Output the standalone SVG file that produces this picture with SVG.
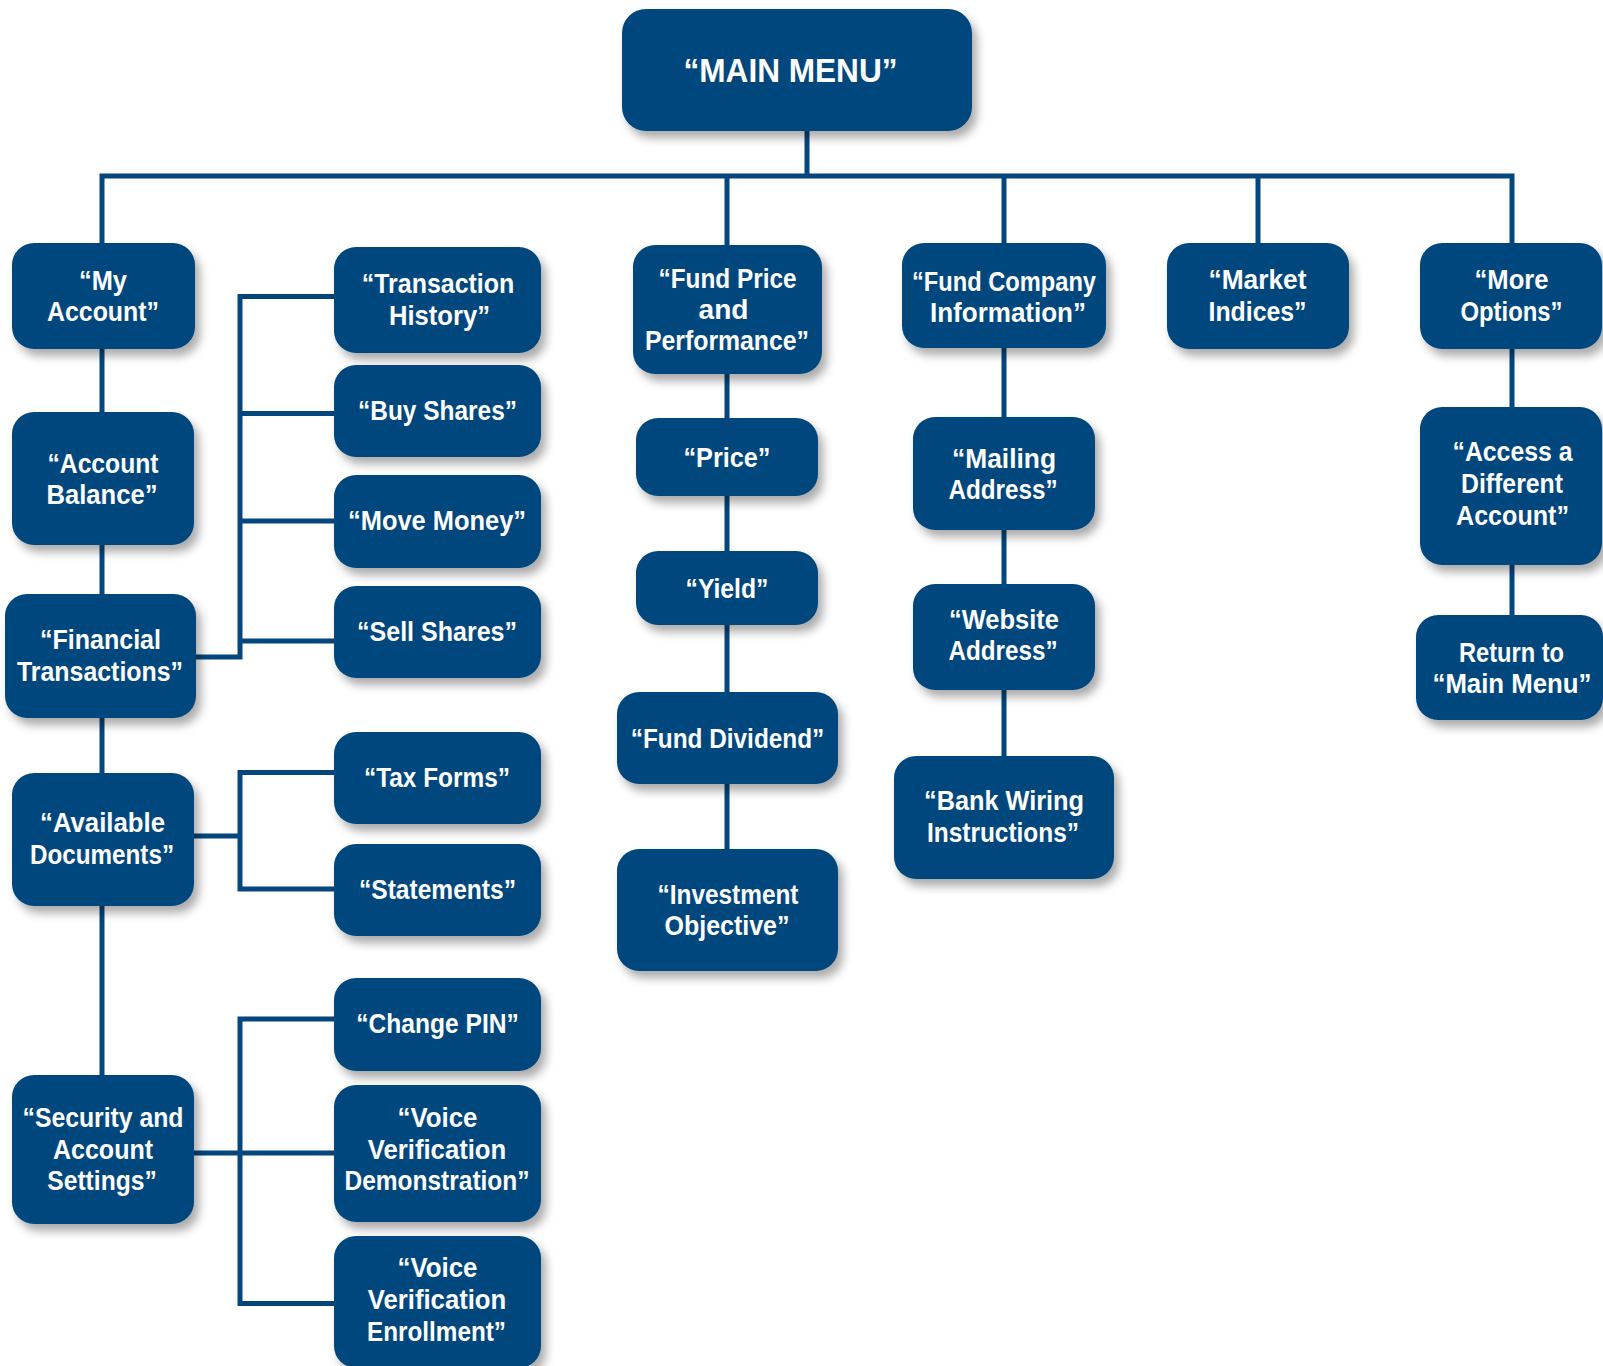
<svg xmlns="http://www.w3.org/2000/svg" width="1603" height="1366" viewBox="0 0 1603 1366">
<defs>
<style>
.box{fill:#04467e;filter:url(#sh)}
.t{fill:#ffffff;font-family:"Liberation Sans",Arial,sans-serif;font-weight:bold;font-size:28px;text-anchor:middle}
.conn{fill:none;stroke:#04467e;stroke-width:5;stroke-linejoin:miter;stroke-linecap:butt}
</style>
<filter id="sh" x="-20%" y="-20%" width="150%" height="150%">
<feDropShadow dx="5" dy="7" stdDeviation="5" flood-color="#000000" flood-opacity="0.33"/>
</filter>
</defs>
<rect width="1603" height="1366" fill="#ffffff"/>
<g id="connectors">
<path class="conn" d="M807,128 V176"/>
<path class="conn" d="M102,246 V176 H1512 V246"/>
<path class="conn" d="M727,176 V248"/>
<path class="conn" d="M1004,176 V246"/>
<path class="conn" d="M1258,176 V246"/>
<path class="conn" d="M102,346 V1078"/>
<path class="conn" d="M337,296.5 H240 V657 H193"/>
<path class="conn" d="M240,413.5 H337"/>
<path class="conn" d="M240,521 H337"/>
<path class="conn" d="M240,641 H337"/>
<path class="conn" d="M337,772.5 H240 V889 H337"/>
<path class="conn" d="M191,836 H240"/>
<path class="conn" d="M337,1019 H240 V1303.5 H337"/>
<path class="conn" d="M191,1153 H337"/>
<path class="conn" d="M727,371 V960"/>
<path class="conn" d="M1004,345 V759"/>
<path class="conn" d="M1512,346 V618"/>
</g>
<g id="main-menu"><rect class="box" x="622" y="9" width="350" height="122" rx="24"/><text class="t" x="790.5" y="82" style="font-size:34px" textLength="214" lengthAdjust="spacingAndGlyphs">“MAIN MENU”</text></g>
<g id="my-account"><rect class="box" x="12" y="243" width="183" height="106" rx="22"/><text class="t" x="103" y="289.5" textLength="48" lengthAdjust="spacingAndGlyphs">“My</text><text class="t" x="103" y="321" textLength="112" lengthAdjust="spacingAndGlyphs">Account”</text></g>
<g id="account-balance"><rect class="box" x="12" y="412" width="182" height="133" rx="22"/><text class="t" x="103" y="472.5" textLength="111" lengthAdjust="spacingAndGlyphs">“Account</text><text class="t" x="102" y="503.5" textLength="111" lengthAdjust="spacingAndGlyphs">Balance”</text></g>
<g id="financial-transactions"><rect class="box" x="5" y="594" width="191" height="124" rx="22"/><text class="t" x="100.5" y="649" textLength="121" lengthAdjust="spacingAndGlyphs">“Financial</text><text class="t" x="100" y="681" textLength="166" lengthAdjust="spacingAndGlyphs">Transactions”</text></g>
<g id="available-documents"><rect class="box" x="12" y="773" width="182" height="133" rx="22"/><text class="t" x="102.5" y="832" textLength="125" lengthAdjust="spacingAndGlyphs">“Available</text><text class="t" x="102" y="864" textLength="144" lengthAdjust="spacingAndGlyphs">Documents”</text></g>
<g id="security-settings"><rect class="box" x="12" y="1075" width="182" height="149" rx="22"/><text class="t" x="103" y="1127" textLength="161" lengthAdjust="spacingAndGlyphs">“Security and</text><text class="t" x="103" y="1158.7" textLength="100" lengthAdjust="spacingAndGlyphs">Account</text><text class="t" x="102" y="1190" textLength="109.5" lengthAdjust="spacingAndGlyphs">Settings”</text></g>
<g id="transaction-history"><rect class="box" x="334" y="247" width="207" height="106" rx="22"/><text class="t" x="438" y="293.3" textLength="152.5" lengthAdjust="spacingAndGlyphs">“Transaction</text><text class="t" x="439.5" y="324.5" textLength="101" lengthAdjust="spacingAndGlyphs">History”</text></g>
<g id="buy-shares"><rect class="box" x="334" y="365" width="207" height="92" rx="22"/><text class="t" x="437.5" y="420" textLength="159" lengthAdjust="spacingAndGlyphs">“Buy Shares”</text></g>
<g id="move-money"><rect class="box" x="334" y="475" width="207" height="93" rx="22"/><text class="t" x="437" y="530" textLength="178" lengthAdjust="spacingAndGlyphs">“Move Money”</text></g>
<g id="sell-shares"><rect class="box" x="334" y="586" width="207" height="92" rx="22"/><text class="t" x="437" y="640.5" textLength="160" lengthAdjust="spacingAndGlyphs">“Sell Shares”</text></g>
<g id="tax-forms"><rect class="box" x="334" y="732" width="207" height="92" rx="22"/><text class="t" x="437" y="787" textLength="146" lengthAdjust="spacingAndGlyphs">“Tax Forms”</text></g>
<g id="statements"><rect class="box" x="334" y="844" width="207" height="92" rx="22"/><text class="t" x="437.5" y="898.5" textLength="157" lengthAdjust="spacingAndGlyphs">“Statements”</text></g>
<g id="change-pin"><rect class="box" x="334" y="978" width="207" height="93" rx="22"/><text class="t" x="437.5" y="1032.5" textLength="162.5" lengthAdjust="spacingAndGlyphs">“Change PIN”</text></g>
<g id="voice-demo"><rect class="box" x="334" y="1085" width="207" height="137" rx="22"/><text class="t" x="437.5" y="1126.7" textLength="80" lengthAdjust="spacingAndGlyphs">“Voice</text><text class="t" x="437" y="1158.7" textLength="138.5" lengthAdjust="spacingAndGlyphs">Verification</text><text class="t" x="437" y="1190" textLength="185" lengthAdjust="spacingAndGlyphs">Demonstration”</text></g>
<g id="voice-enrollment"><rect class="box" x="334" y="1236" width="207" height="132" rx="22"/><text class="t" x="437.5" y="1277.3" textLength="80" lengthAdjust="spacingAndGlyphs">“Voice</text><text class="t" x="437" y="1309.3" textLength="138.5" lengthAdjust="spacingAndGlyphs">Verification</text><text class="t" x="436.5" y="1341" textLength="139" lengthAdjust="spacingAndGlyphs">Enrollment”</text></g>
<g id="fund-price"><rect class="box" x="633" y="245" width="189" height="129" rx="22"/><text class="t" x="727.5" y="287.5" textLength="138" lengthAdjust="spacingAndGlyphs">“Fund Price</text><text class="t" x="723.5" y="318.5" textLength="50" lengthAdjust="spacingAndGlyphs">and</text><text class="t" x="727" y="350" textLength="164" lengthAdjust="spacingAndGlyphs">Performance”</text></g>
<g id="price"><rect class="box" x="636" y="418" width="182" height="78" rx="22"/><text class="t" x="727" y="466.5" textLength="87" lengthAdjust="spacingAndGlyphs">“Price”</text></g>
<g id="yield"><rect class="box" x="636" y="551" width="182" height="74" rx="22"/><text class="t" x="727" y="597.5" textLength="83" lengthAdjust="spacingAndGlyphs">“Yield”</text></g>
<g id="fund-dividend"><rect class="box" x="617" y="692" width="221" height="92" rx="22"/><text class="t" x="727.5" y="747.5" textLength="193.5" lengthAdjust="spacingAndGlyphs">“Fund Dividend”</text></g>
<g id="investment-objective"><rect class="box" x="617" y="849" width="221" height="122" rx="22"/><text class="t" x="728" y="903.5" textLength="141" lengthAdjust="spacingAndGlyphs">“Investment</text><text class="t" x="727" y="935" textLength="125" lengthAdjust="spacingAndGlyphs">Objective”</text></g>
<g id="fund-company"><rect class="box" x="902" y="243" width="204" height="105" rx="22"/><text class="t" x="1004" y="291" textLength="184" lengthAdjust="spacingAndGlyphs">“Fund Company</text><text class="t" x="1008" y="321.5" textLength="156" lengthAdjust="spacingAndGlyphs">Information”</text></g>
<g id="mailing-address"><rect class="box" x="913" y="417" width="182" height="113" rx="22"/><text class="t" x="1004" y="468" textLength="104" lengthAdjust="spacingAndGlyphs">“Mailing</text><text class="t" x="1003" y="499" textLength="109" lengthAdjust="spacingAndGlyphs">Address”</text></g>
<g id="website-address"><rect class="box" x="913" y="584" width="182" height="106" rx="22"/><text class="t" x="1004" y="629" textLength="110" lengthAdjust="spacingAndGlyphs">“Website</text><text class="t" x="1003" y="660" textLength="109" lengthAdjust="spacingAndGlyphs">Address”</text></g>
<g id="bank-wiring"><rect class="box" x="894" y="756" width="220" height="123" rx="22"/><text class="t" x="1004" y="810" textLength="160" lengthAdjust="spacingAndGlyphs">“Bank Wiring</text><text class="t" x="1003" y="841.5" textLength="152" lengthAdjust="spacingAndGlyphs">Instructions”</text></g>
<g id="market-indices"><rect class="box" x="1167" y="243" width="182" height="106" rx="22"/><text class="t" x="1257.5" y="289" textLength="98" lengthAdjust="spacingAndGlyphs">“Market</text><text class="t" x="1257.5" y="321" textLength="98" lengthAdjust="spacingAndGlyphs">Indices”</text></g>
<g id="more-options"><rect class="box" x="1420" y="243" width="182" height="106" rx="22"/><text class="t" x="1511.5" y="289" textLength="74" lengthAdjust="spacingAndGlyphs">“More</text><text class="t" x="1511.5" y="321" textLength="102" lengthAdjust="spacingAndGlyphs">Options”</text></g>
<g id="access-different-account"><rect class="box" x="1420" y="407" width="182" height="158" rx="22"/><text class="t" x="1512.5" y="461" textLength="120" lengthAdjust="spacingAndGlyphs">“Access a</text><text class="t" x="1512" y="492.7" textLength="102" lengthAdjust="spacingAndGlyphs">Different</text><text class="t" x="1512.5" y="525" textLength="113" lengthAdjust="spacingAndGlyphs">Account”</text></g>
<g id="return-main-menu"><rect class="box" x="1416" y="615" width="187" height="105" rx="22"/><text class="t" x="1511.5" y="661.7" textLength="105" lengthAdjust="spacingAndGlyphs">Return to</text><text class="t" x="1512" y="692.7" textLength="159" lengthAdjust="spacingAndGlyphs">“Main Menu”</text></g>
</svg>
